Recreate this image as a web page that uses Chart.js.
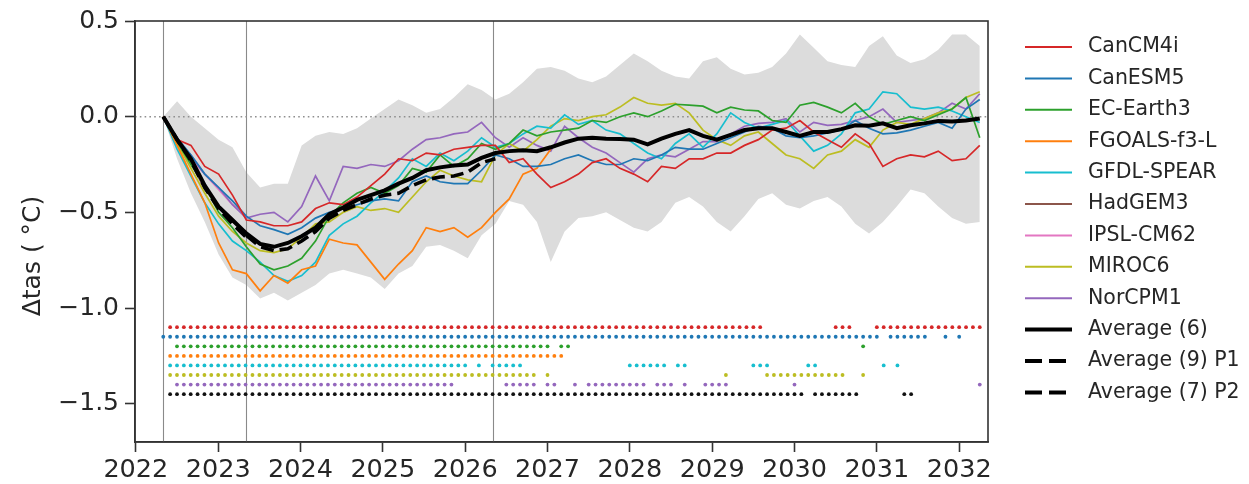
<!DOCTYPE html>
<html>
<head>
<meta charset="utf-8">
<script src="https://cdn.jsdelivr.net/npm/chart.js@4/dist/chart.umd.min.js"></script>
<style>
  html, body { margin: 0; padding: 0; background: #fff; }
  canvas { display: block; }
</style>
</head>
<body>
<canvas id="chart" width="1249" height="484"></canvas>
<script>
// Anomaly of near-surface air temperature (Δtas, °C) after the 2022 start date,
// two-month steps from May 2022 to April 2032.

const canCM4i = [0, -0.12, -0.15, -0.26, -0.30, -0.41, -0.54, -0.55, -0.57, -0.57,
  -0.55, -0.48, -0.45, -0.46, -0.42, -0.36, -0.30, -0.22, -0.23, -0.19,
  -0.20, -0.17, -0.16, -0.15, -0.15, -0.24, -0.22, -0.30, -0.37, -0.34,
  -0.30, -0.24, -0.22, -0.27, -0.30, -0.34, -0.26, -0.27, -0.22, -0.22,
  -0.19, -0.19, -0.15, -0.12, -0.07, -0.06, -0.02, -0.08, -0.12, -0.16,
  -0.09, -0.14, -0.26, -0.22, -0.20, -0.21, -0.18, -0.23, -0.22, -0.15];

const canESM5 = [0, -0.11, -0.20, -0.30, -0.37, -0.44, -0.52, -0.57, -0.59, -0.615,
  -0.58, -0.53, -0.50, -0.48, -0.46, -0.44, -0.43, -0.44, -0.34, -0.31,
  -0.34, -0.35, -0.35, -0.28, -0.20, -0.22, -0.26, -0.26, -0.25, -0.22,
  -0.20, -0.23, -0.25, -0.25, -0.22, -0.23, -0.20, -0.16, -0.17, -0.17,
  -0.14, -0.11, -0.08, -0.05, -0.06, -0.10, -0.11, -0.10, -0.085, -0.07,
  -0.02, -0.06, -0.09, -0.085, -0.07, -0.05, -0.03, -0.06, 0.04, 0.09];

const ecEarth3 = [0, -0.13, -0.25, -0.36, -0.50, -0.58, -0.68, -0.77, -0.80, -0.78,
  -0.74, -0.65, -0.52, -0.45, -0.40, -0.37, -0.40, -0.36, -0.27, -0.29,
  -0.20, -0.26, -0.22, -0.14, -0.17, -0.14, -0.07, -0.10, -0.08, -0.07,
  -0.06, -0.02, -0.03, 0.00, 0.02, 0.00, 0.03, 0.065, 0.06, 0.055,
  0.02, 0.05, 0.035, 0.03, -0.02, -0.03, 0.06, 0.075, 0.05, 0.02,
  0.07, 0.00, -0.04, -0.02, 0.00, -0.02, 0.01, 0.04, 0.10, -0.11];

const fgoalsF3L = [0, -0.15, -0.30, -0.45, -0.66, -0.80, -0.82, -0.91, -0.83, -0.87,
  -0.80, -0.78, -0.64, -0.66, -0.67, -0.76, -0.85, -0.77, -0.70, -0.58,
  -0.60, -0.58, -0.63, -0.58, -0.50, -0.43, -0.30, -0.27, -0.17];

const gfdlSpear = [0, -0.17, -0.31, -0.45, -0.56, -0.65, -0.70, -0.76, -0.83, -0.86,
  -0.83, -0.76, -0.62, -0.56, -0.52, -0.45, -0.39, -0.32, -0.22, -0.26,
  -0.19, -0.23, -0.18, -0.11, -0.16, -0.14, -0.09, -0.05, -0.06, 0.01,
  -0.04, -0.02, -0.07, -0.09, -0.14, -0.19, -0.22, -0.14, -0.09, -0.16,
  -0.09, 0.02, -0.03, -0.06, -0.04, -0.02, -0.10, -0.18, -0.15, -0.09,
  0.02, 0.04, 0.13, 0.12, 0.05, 0.04, 0.05, 0.03, 0.00, -0.03];

// HadGEM3 and IPSL-CM62 only cover the first year
const hadGEM3 = [0, -0.12, -0.24, -0.38, -0.47, -0.55, -0.60];
const ipslCM62 = [0, -0.13, -0.22, -0.30, -0.38, -0.46, -0.52];

const miroc6 = [0, -0.14, -0.27, -0.40, -0.52, -0.60, -0.66, -0.70, -0.71, -0.69,
  -0.63, -0.56, -0.55, -0.50, -0.47, -0.49, -0.48, -0.50, -0.42, -0.34,
  -0.28, -0.31, -0.33, -0.34, -0.20, -0.14, -0.18, -0.12, -0.05, -0.01,
  -0.02, 0.00, 0.01, 0.05, 0.10, 0.07, 0.06, 0.07, 0.02, -0.07,
  -0.12, -0.15, -0.10, -0.08, -0.14, -0.20, -0.22, -0.27, -0.20, -0.18,
  -0.12, -0.16, -0.07, -0.03, -0.04, -0.01, 0.02, 0.04, 0.10, 0.13];

const norCPM1 = [0, -0.12, -0.20, -0.30, -0.37, -0.46, -0.53, -0.51, -0.50, -0.55,
  -0.47, -0.31, -0.44, -0.26, -0.27, -0.25, -0.26, -0.23, -0.17, -0.12,
  -0.11, -0.09, -0.08, -0.03, -0.11, -0.16, -0.11, -0.15, -0.18, -0.05,
  -0.11, -0.16, -0.19, -0.24, -0.29, -0.22, -0.20, -0.21, -0.17, -0.13,
  -0.13, -0.09, -0.05, -0.035, -0.03, -0.01, -0.08, -0.03, -0.045, -0.04,
  -0.02, 0.00, 0.04, -0.03, -0.02, -0.01, 0.02, 0.07, 0.04, 0.12];

const average6 = [0, -0.12, -0.22, -0.36, -0.47, -0.54, -0.61, -0.665, -0.68, -0.66,
  -0.625, -0.58, -0.51, -0.475, -0.435, -0.41, -0.385, -0.35, -0.32, -0.28,
  -0.265, -0.255, -0.25, -0.215, -0.19, -0.18, -0.175, -0.18, -0.16, -0.135,
  -0.115, -0.11, -0.115, -0.117, -0.12, -0.145, -0.115, -0.09, -0.07, -0.10,
  -0.12, -0.095, -0.07, -0.06, -0.06, -0.08, -0.10, -0.08, -0.08, -0.065,
  -0.045, -0.047, -0.035, -0.06, -0.045, -0.035, -0.022, -0.025, -0.02, -0.01];

// period averages: P1 is the first year, P2 runs from May 2023 to May 2026
const average9P1 = [0, -0.12, -0.23, -0.37, -0.48, -0.56, -0.63];
const average7P2 = [-0.62, -0.68, -0.70, -0.69, -0.65, -0.60, -0.53, -0.49, -0.46, -0.43,
  -0.41, -0.40, -0.36, -0.33, -0.315, -0.31, -0.29, -0.24, -0.22];
const p2StartStep = 6;

// ensemble spread envelope
const spreadUpper = [0, 0.08, 0.00, -0.06, -0.12, -0.16, -0.29, -0.37, -0.35, -0.35,
  -0.15, -0.10, -0.08, -0.09, -0.06, -0.01, 0.04, 0.09, 0.06, 0.02,
  0.04, 0.10, 0.17, 0.14, 0.09, 0.12, 0.18, 0.25, 0.26, 0.24,
  0.20, 0.18, 0.21, 0.27, 0.33, 0.29, 0.24, 0.21, 0.20, 0.29,
  0.31, 0.25, 0.22, 0.23, 0.26, 0.33, 0.43, 0.36, 0.29, 0.27,
  0.26, 0.37, 0.42, 0.32, 0.28, 0.30, 0.35, 0.43, 0.43, 0.37];
const spreadLower = [0, -0.22, -0.40, -0.55, -0.72, -0.84, -0.88, -0.95, -0.92, -0.96,
  -0.92, -0.88, -0.82, -0.80, -0.82, -0.84, -0.90, -0.82, -0.78, -0.68,
  -0.67, -0.70, -0.74, -0.62, -0.56, -0.44, -0.46, -0.55, -0.76, -0.60,
  -0.53, -0.52, -0.50, -0.54, -0.58, -0.60, -0.55, -0.45, -0.42, -0.47,
  -0.55, -0.60, -0.52, -0.43, -0.40, -0.46, -0.48, -0.44, -0.42, -0.47,
  -0.56, -0.61, -0.55, -0.47, -0.38, -0.40, -0.47, -0.53, -0.56, -0.55];

// months (counted from January 2022) with significant anomalies, as inclusive ranges
const sigCanCM4i = [[5, 91], [102, 104], [108, 123]];
const sigCanESM5 = [[4, 108], [110, 115], [118, 118], [120, 120]];
const sigEcEarth3 = [[6, 60], [62, 63], [106, 106]];
const sigFgoals = [[5, 62]];
const sigGfdl = [[5, 48], [50, 50], [52, 56], [72, 77], [79, 80], [90, 92], [98, 99], [109, 109], [111, 111]];
const sigMiroc6 = [[5, 58], [60, 60], [86, 86], [92, 103], [106, 106]];
const sigNorCPM1 = [[6, 46], [54, 58], [60, 61], [64, 64], [66, 74], [76, 78], [80, 80], [83, 86], [96, 96], [123, 123]];
const sigAverage = [[5, 97], [99, 105], [112, 113]];
const sigRowLevels = [-1.10, -1.15, -1.20, -1.25, -1.30, -1.35, -1.40, -1.45];

// period boundaries (May 2022, May 2023, May 2026)
const periodMarks = [2022 + 4 / 12, 2023 + 4 / 12, 2026 + 4 / 12];

const yearTicks = [2022, 2023, 2024, 2025, 2026, 2027, 2028, 2029, 2030, 2031, 2032];
const valueTicks = [0.5, 0.0, -0.5, -1.0, -1.5];

const modelNames = ['CanCM4i', 'CanESM5', 'EC-Earth3', 'FGOALS-f3-L', 'GFDL-SPEAR',
  'HadGEM3', 'IPSL-CM62', 'MIROC6', 'NorCPM1'];
const modelColors = ['#d62728', '#1f77b4', '#2ca02c', '#ff7f0e', '#17becf',
  '#8c564b', '#e377c2', '#bcbd22', '#9467bd'];

// ---- build chart data from the arrays above ----
const xStart = 2022 + 4 / 12;
const xEnd = 2022 + 123 / 12;
const nSteps = average6.length;
const xAt = i => xStart + i * (xEnd - xStart) / (nSteps - 1);
const toPoints = (vals, offset = 0) => vals.map((v, k) => ({ x: xAt(k + offset), y: v }));

const modelSeries = [canCM4i, canESM5, ecEarth3, fgoalsF3L, gfdlSpear, hadGEM3, ipslCM62, miroc6, norCPM1];

function sigPoints(ranges, level) {
  const pts = [];
  ranges.forEach(([a, b]) => {
    for (let m = a; m <= b; m++) pts.push({ x: 2022 + m / 12, y: level });
  });
  return pts;
}

const sigRows = [
  [sigCanCM4i, '#d62728'], [sigCanESM5, '#1f77b4'], [sigEcEarth3, '#2ca02c'],
  [sigFgoals, '#ff7f0e'], [sigGfdl, '#17becf'], [sigMiroc6, '#bcbd22'],
  [sigNorCPM1, '#9467bd'], [sigAverage, '#111111']
];

const datasets = [];

datasets.push({ label: 'Average (6)', data: toPoints(average6), borderColor: '#000',
  borderWidth: 4, order: 1 });
datasets.push({ label: 'Average (9) P1', data: toPoints(average9P1), borderColor: '#000',
  borderWidth: 3.6, borderDash: [13, 6], order: 2 });
datasets.push({ label: 'Average (7) P2', data: toPoints(average7P2, p2StartStep), borderColor: '#000',
  borderWidth: 3.6, borderDash: [13, 6], order: 2 });

modelSeries.forEach((vals, k) => {
  datasets.push({ label: modelNames[k], data: toPoints(vals), borderColor: modelColors[k],
    borderWidth: 1.7, order: (k === 5 || k === 6) ? 20 : 10 + k });
});

sigRows.forEach(([ranges, color], r) => {
  datasets.push({ label: 'sig' + r, data: sigPoints(ranges, sigRowLevels[r]), showLine: false,
    pointRadius: 1.9, pointBackgroundColor: color, pointBorderWidth: 0, borderColor: color, order: 5 });
});

datasets.push({ label: 'spreadUpper', data: toPoints(spreadUpper), borderWidth: 0,
  fill: '+1', backgroundColor: '#dcdcdc', order: 100 });
datasets.push({ label: 'spreadLower', data: toPoints(spreadLower), borderWidth: 0,
  fill: false, order: 101 });

const FONT = '"DejaVu Sans", "Liberation Sans", sans-serif';
const TEXT = '#262626';

// reference lines: period boundaries and zero line
const refLines = {
  id: 'refLines',
  beforeDatasetsDraw(chart) {
    const { ctx, chartArea: a, scales: { x, y } } = chart;
    ctx.save();
    ctx.strokeStyle = '#8a8a8a';
    ctx.lineWidth = 1.1;
    periodMarks.forEach(v => {
      const px = Math.round(x.getPixelForValue(v)) + 0.5;
      ctx.beginPath(); ctx.moveTo(px, a.top); ctx.lineTo(px, a.bottom); ctx.stroke();
    });
    const py = y.getPixelForValue(0);
    ctx.strokeStyle = '#8f8f8f';
    ctx.lineWidth = 1.6;
    ctx.setLineDash([1.6, 3.2]);
    ctx.beginPath(); ctx.moveTo(a.left, py); ctx.lineTo(a.right, py); ctx.stroke();
    ctx.restore();
  }
};

// frame, axis title and legend
const decorations = {
  id: 'decorations',
  afterDraw(chart) {
    const { ctx, chartArea: a } = chart;
    ctx.save();
    ctx.strokeStyle = '#333';
    ctx.lineWidth = 1.6;
    ctx.strokeRect(a.left, a.top, a.right - a.left, a.bottom - a.top);

    ctx.fillStyle = TEXT;
    ctx.font = '25px ' + FONT;
    ctx.textAlign = 'center';
    ctx.textBaseline = 'middle';
    ctx.translate(33, 256);
    ctx.rotate(-Math.PI / 2);
    ctx.fillText('Δtas ( °C)', 0, 0);
    ctx.restore();

    const entries = modelNames.map((n, k) => ({ name: n, color: modelColors[k], width: 2, dash: [] }));
    entries.push({ name: 'Average (6)', color: '#000', width: 4, dash: [] });
    entries.push({ name: 'Average (9) P1', color: '#000', width: 4, dash: [17, 7] });
    entries.push({ name: 'Average (7) P2', color: '#000', width: 4, dash: [17, 7] });

    ctx.save();
    ctx.font = '20.5px ' + FONT;
    ctx.textAlign = 'left';
    ctx.textBaseline = 'middle';
    entries.forEach((e, k) => {
      const ly = 47 + k * 31.4;
      ctx.strokeStyle = e.color;
      ctx.lineWidth = e.width;
      ctx.setLineDash(e.dash);
      ctx.beginPath(); ctx.moveTo(1025, ly); ctx.lineTo(1072, ly); ctx.stroke();
      ctx.fillStyle = TEXT;
      ctx.fillText(e.name, 1088, ly);
    });
    ctx.restore();
  }
};

new Chart(document.getElementById('chart'), {
  type: 'line',
  data: { datasets },
  options: {
    responsive: false,
    animation: false,
    events: [],
    layout: { padding: { top: 17, right: 261, left: 0, bottom: 0 } },
    elements: { point: { radius: 0 }, line: { tension: 0, fill: false } },
    plugins: {
      legend: { display: false },
      tooltip: { enabled: false },
      filler: { drawTime: 'beforeDraw' }
    },
    scales: {
      x: {
        type: 'linear',
        min: 2021.99,
        max: 2032.35,
        afterBuildTicks: s => { s.ticks = yearTicks.map(v => ({ value: v })); },
        afterFit: s => { s.height = 42; },
        grid: { display: true, drawOnChartArea: false, drawTicks: true, tickLength: 10,
          tickWidth: 1.6, tickColor: '#333' },
        border: { display: true, color: '#333', width: 1.6 },
        ticks: { color: TEXT, font: { family: FONT, size: 25.5 }, padding: 3, maxRotation: 0,
          autoSkip: false, callback: v => String(v) }
      },
      y: {
        type: 'linear',
        min: -1.70,
        max: 0.5,
        afterBuildTicks: s => { s.ticks = valueTicks.map(v => ({ value: v })); },
        afterFit: s => { s.width = 135; },
        grid: { display: true, drawOnChartArea: false, drawTicks: true, tickLength: 10,
          tickWidth: 1.6, tickColor: '#333' },
        border: { display: true, color: '#333', width: 1.6 },
        ticks: { color: TEXT, font: { family: FONT, size: 25 }, padding: 6,
          callback: v => v.toFixed(1).replace('-', '\u2212') }
      }
    }
  },
  plugins: [refLines, decorations]
});
</script>
</body>
</html>
